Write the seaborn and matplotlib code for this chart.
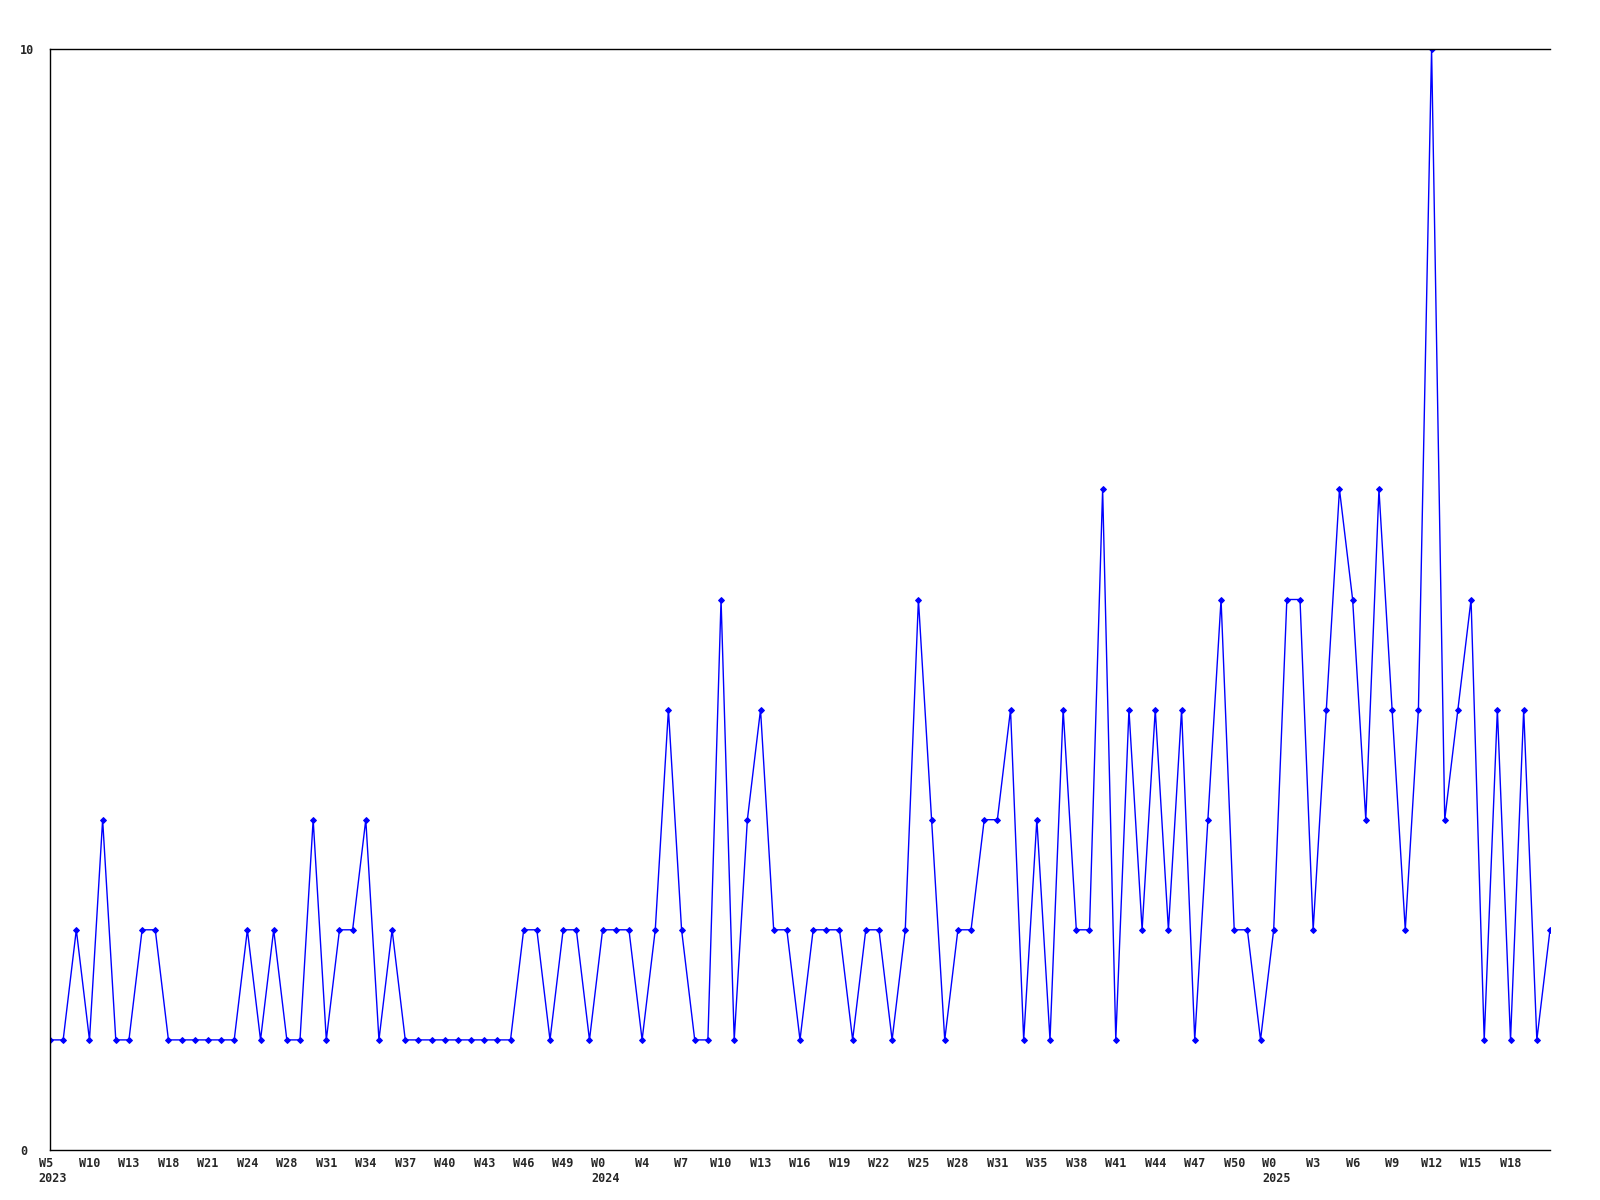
import matplotlib
matplotlib.use("Agg")
import matplotlib.pyplot as plt
import matplotlib.transforms as mtransforms
import seaborn as sns
import numpy as np
import pandas as pd

# weekly counts
counts = [1, 1, 2, 1, 3, 1, 1, 2, 2, 1,
          1, 1, 1, 1, 1, 2, 1, 2, 1, 1,
          3, 1, 2, 2, 3, 1, 2, 1, 1, 1,
          1, 1, 1, 1, 1, 1, 2, 2, 1, 2,
          2, 1, 2, 2, 2, 1, 2, 4, 2, 1,
          1, 5, 1, 3, 4, 2, 2, 1, 2, 2,
          2, 1, 2, 2, 1, 2, 5, 3, 1, 2,
          2, 3, 3, 4, 1, 3, 1, 4, 2, 2,
          6, 1, 4, 2, 4, 2, 4, 1, 3, 5,
          2, 2, 1, 2, 5, 5, 2, 4, 6, 5,
          3, 6, 4, 2, 4, 10, 3, 4, 5, 1,
          4, 1, 4, 1, 2]

# x tick labels, one every third point
week_labels = ["W5", "W10", "W13", "W18", "W21", "W24", "W28", "W31", "W34",
               "W37", "W40", "W43", "W46", "W49",
               "W0", "W4", "W7", "W10", "W13", "W16", "W19", "W22", "W25",
               "W28", "W31", "W35", "W38", "W41", "W44", "W47", "W50",
               "W0", "W3", "W6", "W9", "W12", "W15", "W18"]
year_labels = ["2023", "2024", "2025"]
year_label_pos = [0, 14, 31]  # index into week_labels
label_step = 3

y_ticks = [0, 10]

df = pd.DataFrame({"idx": np.arange(len(counts)), "count": counts})

sns.set_style("white")
plt.rcParams["font.family"] = ["DejaVu Sans Mono", "DejaVu Sans"]
plt.rcParams["font.weight"] = "bold"

fig = plt.figure(figsize=(16, 12), dpi=100)
ax = fig.add_axes([50 / 1600, 1 - 1150 / 1200, 1500 / 1600, 1101 / 1200])

sns.lineplot(data=df, x="idx", y="count", ax=ax, color="#0000FF",
             linewidth=1.0, marker="D", markersize=3,
             markeredgecolor="#0000FF", markerfacecolor="#0000FF")

ax.set_xlim(0, len(counts) - 1)
ax.set_ylim(0, 10)
ax.set_xlabel("")
ax.set_ylabel("")

# week label, with the year underneath at the start of each year
tick_text = list(week_labels)
for year, li in zip(year_labels, year_label_pos):
    tick_text[li] = week_labels[li] + "\n" + year

tick_pos = [i * label_step for i in range(len(week_labels))]
ax.set_xticks(tick_pos)
ax.set_xticklabels(tick_text, fontsize=8.5, fontweight="bold",
                   multialignment="left", linespacing=1.2, va="top")
ax.tick_params(axis="x", length=0, pad=5)

# nudge the two-line labels a little to the right
shift = mtransforms.ScaledTranslation(3 / 100, 0, fig.dpi_scale_trans)
for i, lab in enumerate(ax.get_xticklabels()):
    if i in year_label_pos:
        lab.set_transform(lab.get_transform() + shift)

ax.set_yticks(y_ticks)
ax.set_yticklabels([str(v) for v in y_ticks], fontsize=8.5,
                   fontweight="bold", ha="left")
ax.tick_params(axis="y", length=0, pad=21.6)

for side in ["left", "top", "bottom"]:
    ax.spines[side].set_visible(True)
    ax.spines[side].set_color("black")
    ax.spines[side].set_linewidth(1.0)
ax.spines["right"].set_visible(False)
ax.grid(False)

fig.savefig("out.png", dpi=100)
